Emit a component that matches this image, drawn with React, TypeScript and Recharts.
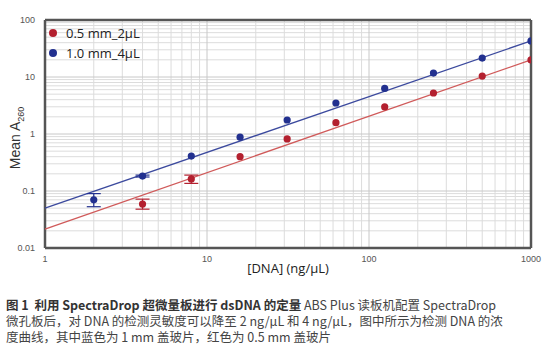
import React from 'react';
import {
  ComposedChart, Scatter, XAxis, YAxis, ReferenceLine, ErrorBar,
} from 'recharts';

// DNA concentrations (ng/µL)
const concentrations = [2, 4, 8, 16, 31.25, 62.5, 125, 250, 500, 1000];

// 1.0 mm_4µL (blue)
const blueMeans = [0.07, 0.183, 0.41, 0.88, 1.76, 3.5, 6.3, 11.7, 21.5, 43];
const blueLow = [0.053, 0.176, 0.41, 0.88, 1.76, 3.5, 6.3, 11.7, 21.5, 43];
const blueHigh = [0.09, 0.19, 0.41, 0.88, 1.76, 3.5, 6.3, 11.7, 21.5, 43];

// 0.5 mm_2µL (red)
const redMeans = [null, 0.059, 0.163, 0.4, 0.82, 1.58, 2.98, 5.24, 10.4, 19.9];
const redLow = [null, 0.048, 0.136, 0.4, 0.82, 1.58, 2.98, 5.24, 10.4, 19.9];
const redHigh = [null, 0.072, 0.19, 0.4, 0.82, 1.58, 2.98, 5.24, 10.4, 19.9];

// fitted trend lines (end points)
const blueFit = [{ x: 1, y: 0.05 }, { x: 1000, y: 43 }];
const redFit = [{ x: 1, y: 0.0215 }, { x: 1000, y: 20 }];

const seriesNames = ['0.5 mm_2µL', '1.0 mm_4µL'];
const xTicks = [1, 10, 100, 1000];
const yTicks = [0.01, 0.1, 1, 10, 100];
const xMinor = [2, 3, 4, 5, 6, 7, 8, 9, 20, 30, 40, 50, 60, 70, 80, 90, 200, 300, 400, 500, 600, 700, 800, 900];
const yMinor = [0.02, 0.03, 0.04, 0.05, 0.06, 0.07, 0.08, 0.09, 0.2, 0.3, 0.4, 0.5, 0.6, 0.7, 0.8, 0.9,
  2, 3, 4, 5, 6, 7, 8, 9, 20, 30, 40, 50, 60, 70, 80, 90];
const xMin = 1, xMax = 1000, yMin = 0.01, yMax = 100;

const RED = '#b3202f';
const BLUE = '#22308f';
const RED_LINE = '#d05a5a';
const BLUE_LINE = '#3c4a9e';
const FRAME = '#555555';

const build = (means: (number | null)[], low: (number | null)[], high: (number | null)[]) =>
  concentrations
    .map((c, i) => {
      const m = means[i];
      if (m == null) return null;
      const lo = m - (low[i] as number);
      const hi = (high[i] as number) - m;
      return lo > 0 || hi > 0 ? { x: c, y: m, err: [lo, hi] } : { x: c, y: m };
    })
    .filter(Boolean) as { x: number; y: number; err?: number[] }[];

const blueData = build(blueMeans, blueLow, blueHigh);
const redData = build(redMeans, redLow, redHigh);

const vSeg = (v: number) => [{ x: v, y: yMin }, { x: v, y: yMax }];
const hSeg = (v: number) => [{ x: xMin, y: v }, { x: xMax, y: v }];

const tickStyle = { fontFamily: 'Liberation Sans, Arial, sans-serif', fontSize: 9, fill: '#555' };

export default function App() {
  return (
    <div style={{ position: 'absolute', left: 0, top: 0, width: 546, height: 354, background: '#fff' }}>
      <ComposedChart
        width={546}
        height={280}
        margin={{ top: 20, right: 15, left: 0, bottom: 0 }}
      >
        <XAxis
          dataKey="x"
          type="number"
          scale="log"
          domain={[xMin, xMax]}
          ticks={xTicks}
          allowDataOverflow
          tickLine={false}
          axisLine={false}
          height={32}
          tick={tickStyle}
          tickMargin={2}
          label={{
            value: '[DNA] (ng/µL)',
            position: 'insideBottom',
            offset: 7,
            style: { fontFamily: 'Open Sans, Noto Sans, sans-serif', fontSize: 13, fill: '#222' },
          }}
        />
        <YAxis
          dataKey="y"
          type="number"
          scale="log"
          domain={[yMin, yMax]}
          ticks={yTicks}
          allowDataOverflow
          tickLine={false}
          axisLine={false}
          width={45}
          tick={tickStyle}
          tickMargin={4}
          label={(props: any) => {
            const vb = props.viewBox || {};
            const cy = (vb.y ?? 20) + (vb.height ?? 228) / 2 + 4;
            return (
              <text
                transform={`translate(20, ${cy}) rotate(-90)`}
                textAnchor="middle"
                style={{ fontFamily: 'Liberation Sans, Arial, sans-serif', fontSize: 14, fill: '#333' }}
              >
                Mean A<tspan fontSize={9} dy={4}>260</tspan>
              </text>
            );
          }}
        />
        {yMinor.map((v) => (
          <ReferenceLine key={'ym' + v} segment={hSeg(v)} stroke="#dcdcdc" strokeWidth={1} ifOverflow="visible" />
        ))}
        {xMinor.map((v) => (
          <ReferenceLine key={'xm' + v} segment={vSeg(v)} stroke="#dcdcdc" strokeWidth={1} ifOverflow="visible" />
        ))}
        {yTicks.map((v) => (
          <ReferenceLine key={'yM' + v} segment={hSeg(v)} stroke="#c8c8c8" strokeWidth={1} ifOverflow="visible" />
        ))}
        {xTicks.map((v) => (
          <ReferenceLine key={'xM' + v} segment={vSeg(v)} stroke="#c8c8c8" strokeWidth={1} ifOverflow="visible" />
        ))}
        <ReferenceLine segment={hSeg(yMin)} stroke={FRAME} strokeWidth={2.5} ifOverflow="visible" />
        <ReferenceLine segment={hSeg(yMax)} stroke={FRAME} strokeWidth={2.5} ifOverflow="visible" />
        <ReferenceLine segment={vSeg(xMin)} stroke={FRAME} strokeWidth={2.5} ifOverflow="visible" />
        <ReferenceLine segment={vSeg(xMax)} stroke={FRAME} strokeWidth={2.5} ifOverflow="visible" />
        <ReferenceLine segment={redFit} stroke={RED_LINE} strokeWidth={1.3} ifOverflow="visible" />
        <ReferenceLine segment={blueFit} stroke={BLUE_LINE} strokeWidth={1.3} ifOverflow="visible" />
        <Scatter name={seriesNames[0]} data={redData} fill={RED} isAnimationActive={false}
          shape={(p: any) => <circle cx={p.cx} cy={p.cy} r={3.6} fill={RED} />}>
          <ErrorBar dataKey="err" direction="y" width={7} stroke={RED} strokeWidth={1.2} isAnimationActive={false} />
        </Scatter>
        <Scatter name={seriesNames[1]} data={blueData} fill={BLUE} isAnimationActive={false}
          shape={(p: any) => <circle cx={p.cx} cy={p.cy} r={3.6} fill={BLUE} />}>
          <ErrorBar dataKey="err" direction="y" width={7} stroke={BLUE} strokeWidth={1.2} isAnimationActive={false} />
        </Scatter>
      </ComposedChart>
      <div
        style={{
          position: 'absolute',
          left: 49,
          top: 23,
          fontFamily: 'Open Sans, Noto Sans, sans-serif',
          fontSize: 13,
          color: '#222',
        }}
      >
        {[RED, BLUE].map((c, i) => (
          <div key={i} style={{ display: 'flex', alignItems: 'center', height: 20 }}>
            <span style={{ width: 8, height: 8, borderRadius: 4, background: c, display: 'inline-block', marginRight: 9 }} />
            <span>{seriesNames[i]}</span>
          </div>
        ))}
      </div>
      <div
        style={{
          position: 'absolute',
          left: 6,
          top: 297,
          width: 540,
          fontFamily: 'Noto Sans CJK SC, Noto Sans, sans-serif',
          fontSize: 12.5,
          lineHeight: '16px',
          color: '#444',
          whiteSpace: 'nowrap',
        }}
      >
        <div>
          <span style={{ fontWeight: 700, color: '#333' }}>图 1&nbsp;&nbsp;利用 SpectraDrop 超微量板进行 dsDNA 的定量</span>{' '}
          ABS Plus 读板机配置 SpectraDrop
        </div>
        <div>微孔板后，对 DNA 的检测灵敏度可以降至 2 ng/µL 和 4 ng/µL，图中所示为检测 DNA 的浓</div>
        <div>度曲线，其中蓝色为 1 mm 盖玻片，红色为 0.5 mm 盖玻片</div>
      </div>
    </div>
  );
}
